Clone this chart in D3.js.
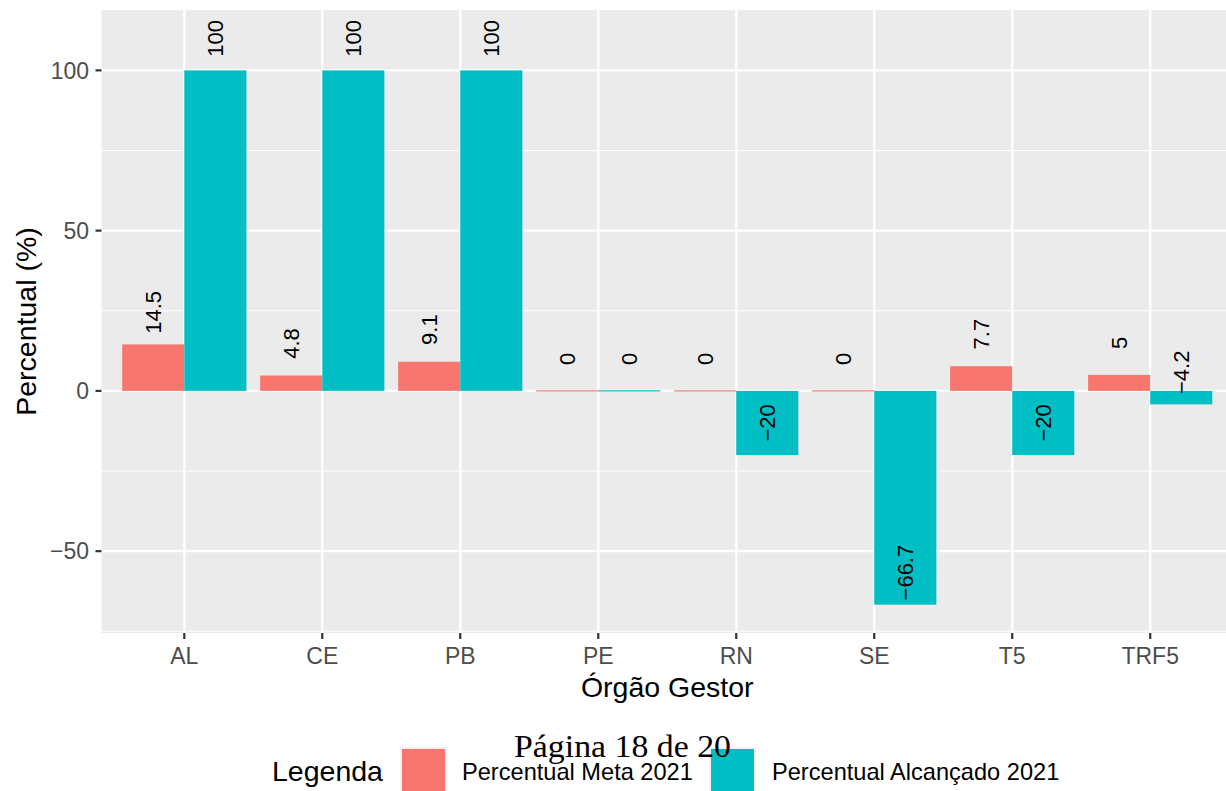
<!DOCTYPE html>
<html>
<head>
<meta charset="utf-8">
<script src="https://cdn.jsdelivr.net/npm/d3@7"></script>
<style>
  html, body { margin: 0; padding: 0; background: #fff; overflow: hidden; }
  svg { display: block; font-family: "Liberation Sans", Arial, Helvetica, sans-serif; }
</style>
</head>
<body>
<svg id="chart" width="1226" height="791"></svg>
<script>
// ---- Data ----
const categories = ["AL", "CE", "PB", "PE", "RN", "SE", "T5", "TRF5"];
const seriesNames = ["Percentual Meta 2021", "Percentual Alcançado 2021"];
const metaValues = [14.5, 4.8, 9.1, 0, 0, 0, 7.7, 5];
const alcancadoValues = [100, 100, 100, 0, -20, -66.7, -20, -4.2];
const yTickValues = [-50, 0, 50, 100];
const yMinorValues = [-75, -25, 25, 75];
const colors = ["#F8766D", "#00BFC4"];
const labelOffset = 10;

// ---- Layout ----
const svg = d3.select("#chart");
const panel = { left: 101.5, right: 1233, top: 10, bottom: 633 };

const allVals = metaValues.concat(alcancadoValues);
const dataMin = Math.min(d3.min(allVals), 0);
const dataMax = d3.max(allVals.map(v => v + labelOffset));
const span = dataMax - dataMin;
const y = d3.scaleLinear()
  .domain([dataMin - 0.05 * span, dataMax + 0.05 * span])
  .range([panel.bottom, panel.top]);

// discrete x with ggplot expansion (0.6 each side)
const n = categories.length;
const step = (panel.right - panel.left) / (n - 1 + 1.2);
const x = d3.scalePoint().domain(categories)
  .range([panel.left + 0.6 * step, panel.right - 0.6 * step]);
const dodge = d3.scaleBand().domain(seriesNames)
  .range([-0.45 * step, 0.45 * step]).padding(0);

// panel background
svg.append("rect")
  .attr("x", panel.left).attr("y", panel.top)
  .attr("width", panel.right - panel.left).attr("height", panel.bottom - panel.top)
  .attr("fill", "#EBEBEB");

// minor grid
svg.append("g").selectAll("line").data(yMinorValues).join("line")
  .attr("x1", panel.left).attr("x2", panel.right)
  .attr("y1", d => y(d)).attr("y2", d => y(d))
  .attr("stroke", "#fff").attr("stroke-width", 1.1);
// major grid
svg.append("g").selectAll("line").data(yTickValues).join("line")
  .attr("x1", panel.left).attr("x2", panel.right)
  .attr("y1", d => y(d)).attr("y2", d => y(d))
  .attr("stroke", "#fff").attr("stroke-width", 2.2);
svg.append("g").selectAll("line").data(categories).join("line")
  .attr("x1", d => x(d)).attr("x2", d => x(d))
  .attr("y1", panel.top).attr("y2", panel.bottom)
  .attr("stroke", "#fff").attr("stroke-width", 2.2);

// bars
const rows = [];
categories.forEach((c, i) => {
  rows.push({ cat: c, s: seriesNames[0], v: metaValues[i], col: colors[0] });
  rows.push({ cat: c, s: seriesNames[1], v: alcancadoValues[i], col: colors[1] });
});
svg.append("g").selectAll("rect").data(rows).join("rect")
  .attr("x", d => x(d.cat) + dodge(d.s))
  .attr("width", dodge.bandwidth())
  .attr("y", d => Math.min(y(d.v), y(0)) - (d.v === 0 ? 0.6 : 0))
  .attr("height", d => Math.max(Math.abs(y(d.v) - y(0)), 1.2))
  .attr("fill", d => d.col);

// bar labels
const fmt = v => (v < 0 ? "\u2212" : "") + String(Math.abs(v));
svg.append("g").selectAll("text").data(rows).join("text")
  .attr("transform", d => `translate(${x(d.cat) + dodge(d.s) + dodge.bandwidth() / 2},${y(d.v + labelOffset)}) rotate(-90)`)
  .attr("text-anchor", "middle")
  .attr("dy", "0.35em")
  .attr("font-size", 22)
  .attr("fill", "#000")
  .text(d => fmt(d.v));

// y axis ticks & labels
const yAxis = svg.append("g");
yAxis.selectAll("line").data(yTickValues).join("line")
  .attr("x1", panel.left - 6).attr("x2", panel.left)
  .attr("y1", d => y(d)).attr("y2", d => y(d))
  .attr("stroke", "#333").attr("stroke-width", 2.2);
yAxis.selectAll("text").data(yTickValues).join("text")
  .attr("x", panel.left - 12.5).attr("y", d => y(d))
  .attr("dy", "0.36em")
  .attr("text-anchor", "end")
  .attr("font-size", 23)
  .attr("fill", "#4D4D4D")
  .text(d => fmt(d));

// x axis ticks & labels
const xAxis = svg.append("g");
xAxis.selectAll("line").data(categories).join("line")
  .attr("x1", d => x(d)).attr("x2", d => x(d))
  .attr("y1", panel.bottom).attr("y2", panel.bottom + 6)
  .attr("stroke", "#333").attr("stroke-width", 2.2);
xAxis.selectAll("text").data(categories).join("text")
  .attr("x", d => x(d)).attr("y", 664)
  .attr("text-anchor", "middle")
  .attr("font-size", 23)
  .attr("fill", "#4D4D4D")
  .text(d => d);

// axis titles
svg.append("text")
  .attr("x", (panel.left + panel.right) / 2).attr("y", 697)
  .attr("text-anchor", "middle").attr("font-size", 28.5).attr("fill", "#000")
  .text("Órgão Gestor");
svg.append("text")
  .attr("transform", `translate(36,${(panel.top + panel.bottom) / 2}) rotate(-90)`)
  .attr("text-anchor", "middle").attr("font-size", 28.5).attr("fill", "#000")
  .text("Percentual (%)");

// legend
const legend = svg.append("g");
legend.append("text").attr("x", 272).attr("y", 780.5)
  .attr("font-size", 28.5).attr("fill", "#000").text("Legenda");
const keyX = [400, 709];
const textX = [462, 772];
seriesNames.forEach((s, i) => {
  legend.append("rect").attr("x", keyX[i]).attr("y", 747).attr("width", 47).attr("height", 47)
    .attr("fill", "#F2F2F2");
  legend.append("rect").attr("x", keyX[i] + 2).attr("y", 749).attr("width", 43).attr("height", 43)
    .attr("fill", colors[i]);
  legend.append("text").attr("x", textX[i]).attr("y", 779.5)
    .attr("font-size", 23.6).attr("fill", "#000").text(s);
});

// page footer text (overlaps legend)
svg.append("text")
  .attr("x", 514).attr("y", 757)
  .attr("font-family", "'Liberation Serif', 'DejaVu Serif', serif")
  .attr("font-size", 31)
  .attr("textLength", 217).attr("lengthAdjust", "spacingAndGlyphs")
  .attr("fill", "#000")
  .text("Página 18 de 20");
</script>
</body>
</html>
